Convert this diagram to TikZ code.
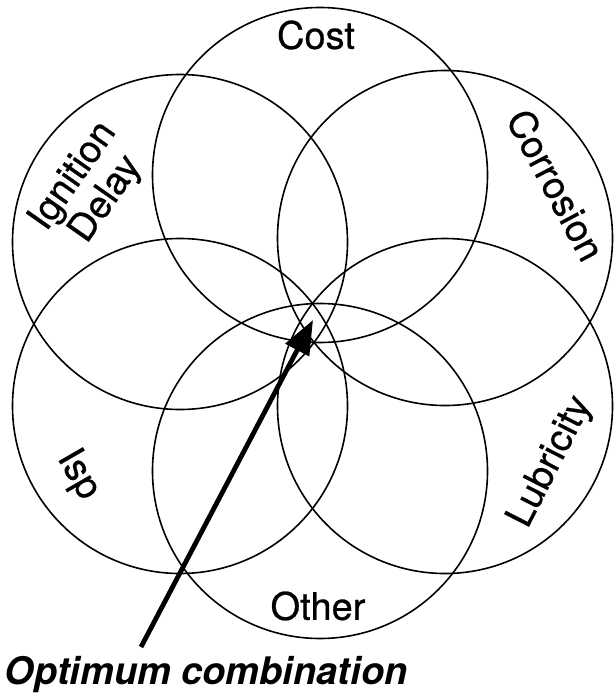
\documentclass[tikz,border=0pt]{standalone}
\usepackage{fontspec}
\setmainfont{TeX Gyre Heros}
\newfontfamily\rimfont{TeX Gyre Heros}[FakeBold=0.6]
\usetikzlibrary{positioning, arrows.meta}

\begin{document}
\begin{tikzpicture}[x=0.5pt, y=-0.5pt,
    ring/.style={draw, circle, line width=0.8pt, minimum size=167.5pt, inner sep=0pt},
    factor/.style={font=\rimfont\fontsize{19}{20}\selectfont, inner sep=0pt, align=center},
    pointer/.style={line width=2.4pt, -{Triangle[length=17pt, width=13pt]}}]
  \useasboundingbox (0,0) rectangle (614,696);
  % six overlapping requirement circles
  \node[ring] (cost)      at (320,175) {};
  \node[ring] (corrosion) at (445,238) {};
  \node[ring] (lubricity) at (445,406) {};
  \node[ring] (other)     at (320,471) {};
  \node[ring] (isp)       at (180,406) {};
  \node[ring] (ignition)  at (180,242) {};
  % labels on the rims
  \node[factor] (costlbl)      at (316,35)  {Cost};
  \node[factor, rotate=-62] (corrosionlbl) at (556,185) {Corrosion};
  \node[factor, rotate=63]  (lubricitylbl) at (551,462) {Lubricity};
  \node[factor] (otherlbl)     at (318,606) {Other};
  \node[factor, rotate=-60] (isplbl)       at (78,475)  {Isp};
  \node[factor, rotate=55]  (ignitionlbl)  at (90,188)  {Ignition\\Delay};
  % the common point
  \coordinate (optimum) at (313,320);
  \node[inner sep=0pt, font=\fontsize{19}{20}\selectfont\bfseries\itshape] (optlbl) at (206,675) {Optimum combination};
  \coordinate (tail) at (141,647);
  \draw[pointer] (tail) -- (optimum);
\end{tikzpicture}
\end{document}
